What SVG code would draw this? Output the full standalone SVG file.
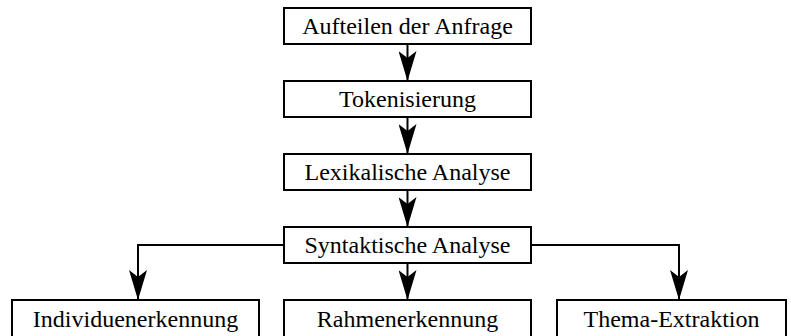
<svg xmlns="http://www.w3.org/2000/svg" width="791" height="336" viewBox="0 0 791 336">
<style>
.box{fill:#fff;stroke:#000;stroke-width:2}
.lbl{font-family:"Liberation Serif","Times New Roman",serif;font-size:24px;fill:#000;text-anchor:middle}
.edge{fill:none;stroke:#000;stroke-width:2;marker-end:url(#arr)}
</style>
<defs>
<marker id="arr" viewBox="0 0 30 18" refX="30" refY="9" markerWidth="30" markerHeight="18" markerUnits="userSpaceOnUse" orient="auto">
<path d="M0,0 L30,9 L0,18 L7,9 Z" fill="#000"/>
</marker>
</defs>
<rect width="791" height="336" fill="#fff"/>
<g id="connectors">
<path class="edge" d="M407.5,44 V81"/>
<path class="edge" d="M407.5,117 V154"/>
<path class="edge" d="M407.5,190 V227"/>
<path class="edge" d="M407.5,263 V300"/>
<path class="edge" d="M284,245 H138 V300"/>
<path class="edge" d="M531,245 H679 V300"/>
</g>
<g id="n1"><rect class="box" x="284" y="8" width="247" height="36"/><text class="lbl" x="407.5" y="34">Aufteilen der Anfrage</text></g>
<g id="n2"><rect class="box" x="284" y="81" width="247" height="36"/><text class="lbl" x="407.5" y="107">Tokenisierung</text></g>
<g id="n3"><rect class="box" x="284" y="154" width="247" height="36"/><text class="lbl" x="407.5" y="180">Lexikalische Analyse</text></g>
<g id="n4"><rect class="box" x="284" y="227" width="247" height="36"/><text class="lbl" x="407.5" y="253">Syntaktische Analyse</text></g>
<g id="n5"><rect class="box" x="12" y="300" width="247" height="40"/><text class="lbl" x="135.5" y="327">Individuenerkennung</text></g>
<g id="n6"><rect class="box" x="284" y="300" width="247" height="40"/><text class="lbl" x="407.5" y="327">Rahmenerkennung</text></g>
<g id="n7"><rect class="box" x="557" y="300" width="229" height="40"/><text class="lbl" x="671.5" y="327">Thema-Extraktion</text></g>
</svg>
